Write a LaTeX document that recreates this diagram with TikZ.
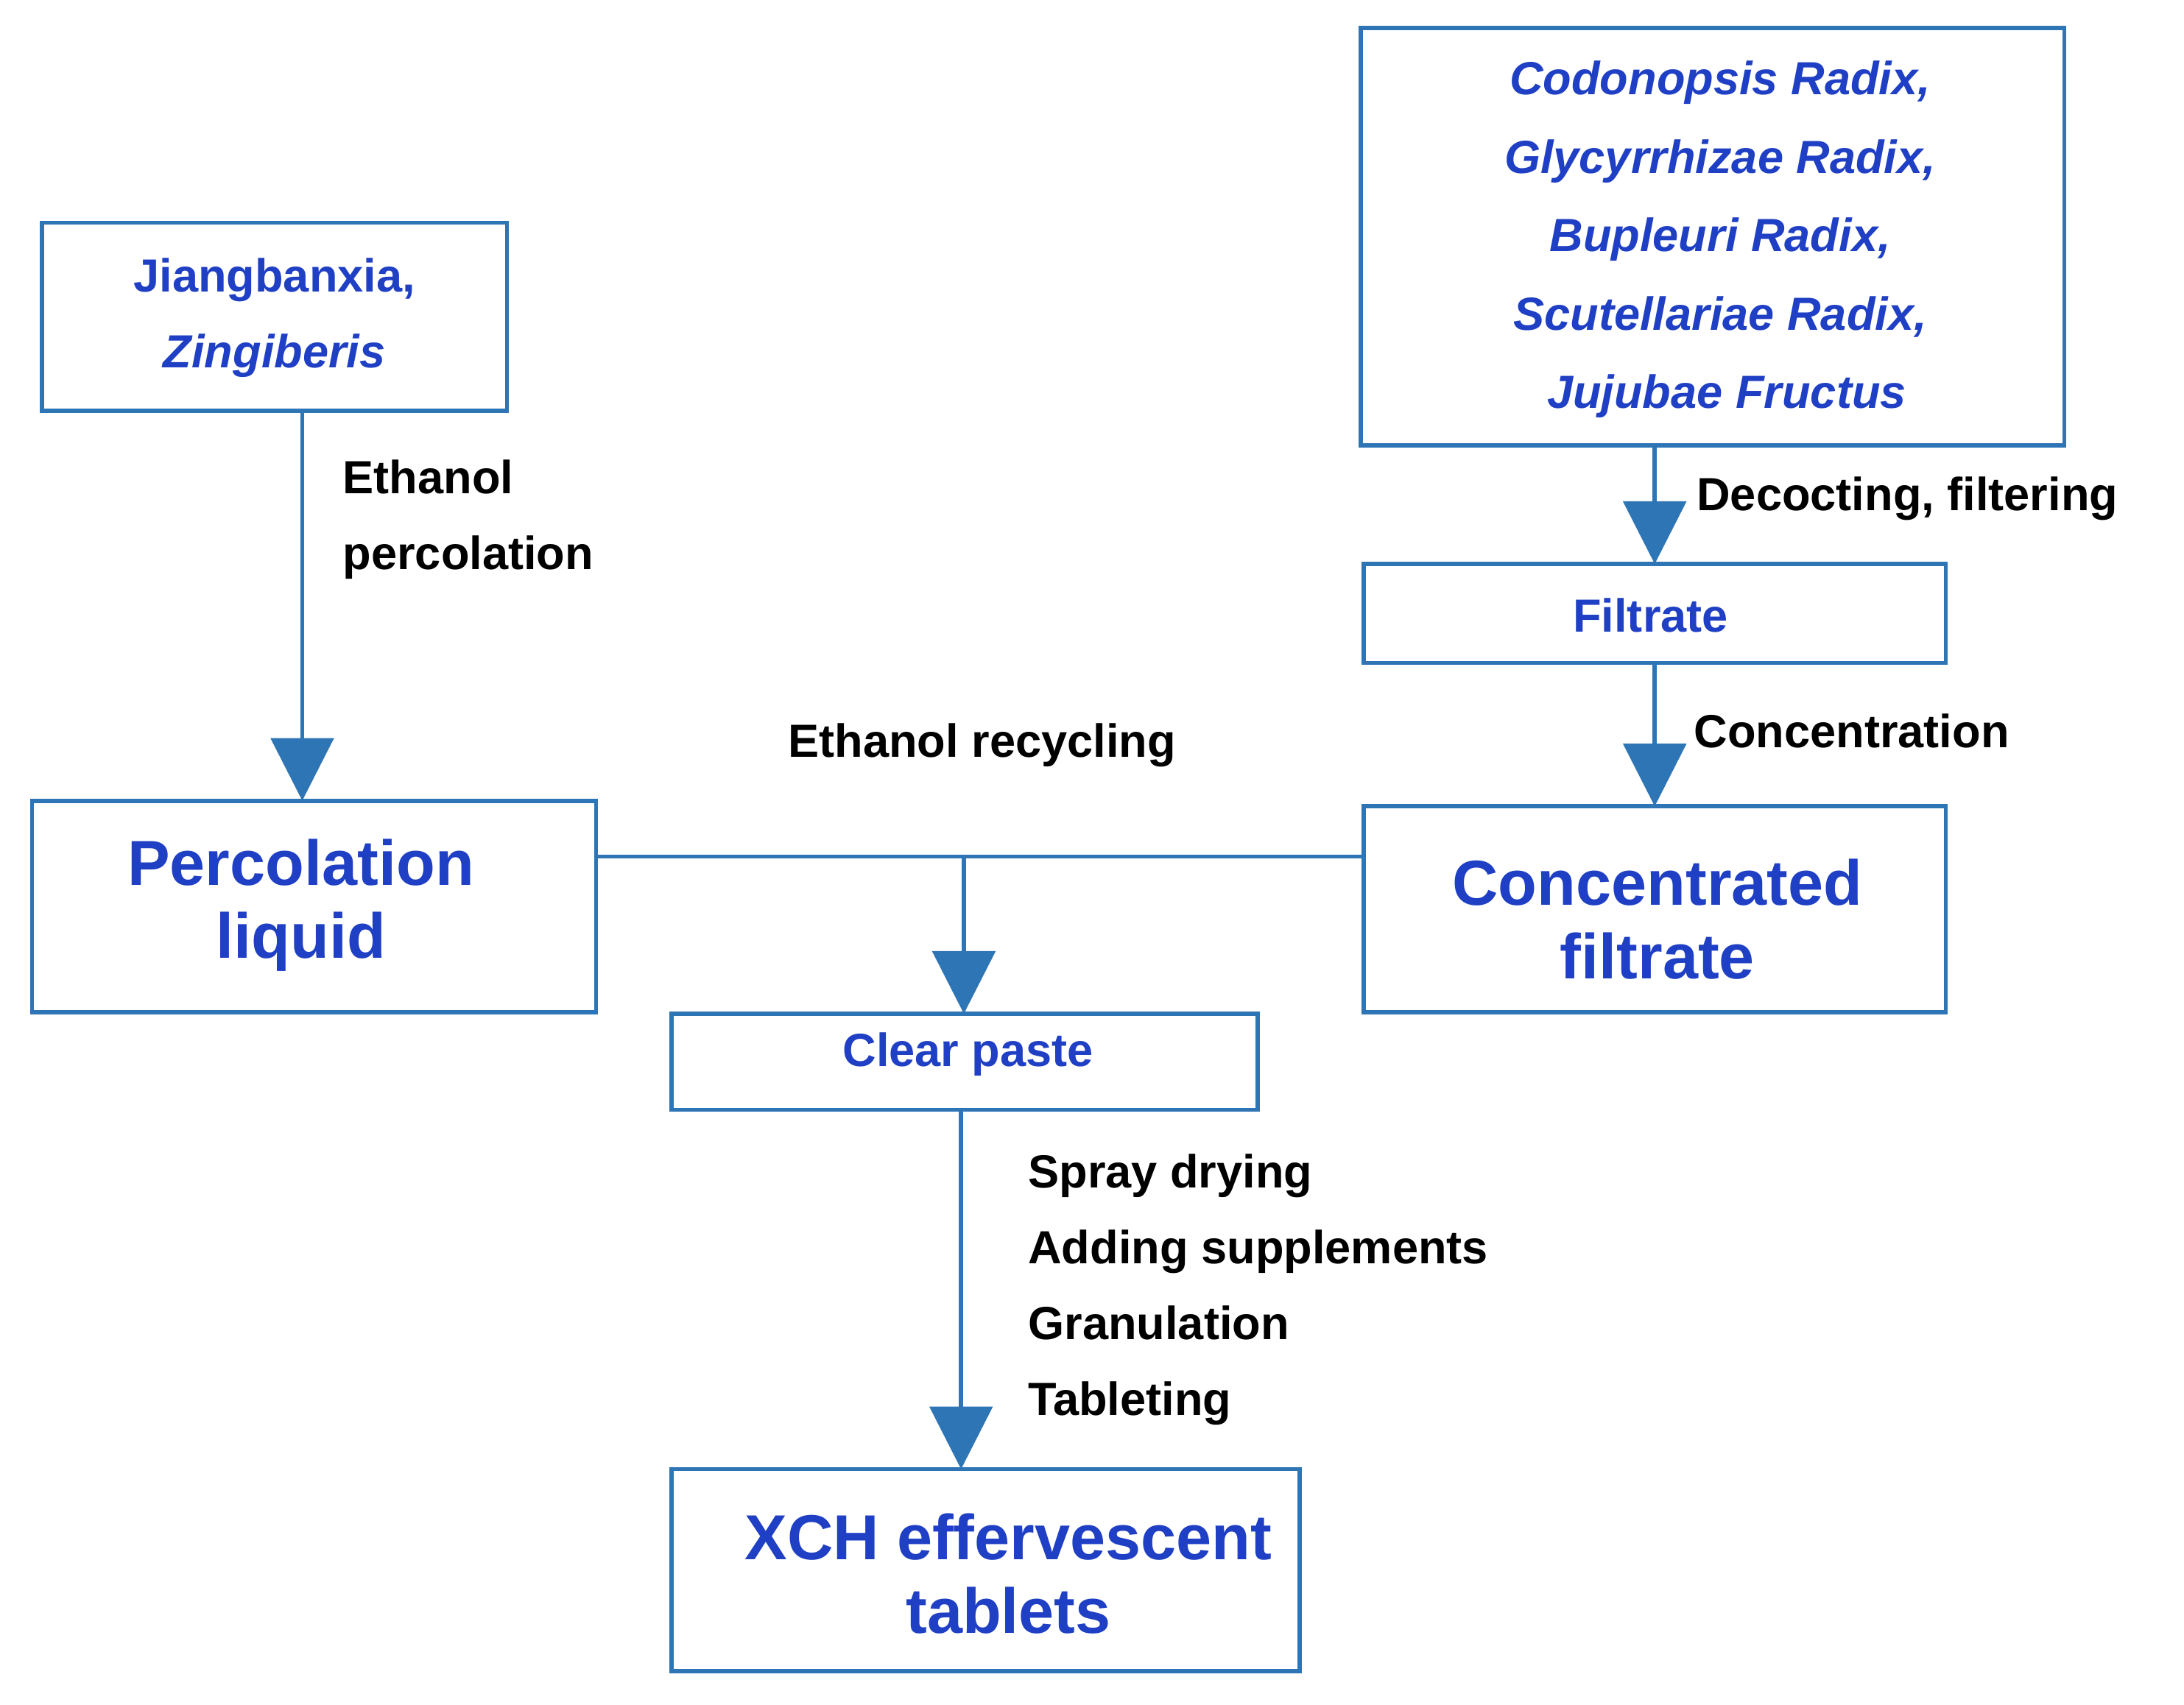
\documentclass[tikz,border=0pt]{standalone}
\usepackage{fontspec}
\setmainfont{Liberation Sans}
\usetikzlibrary{arrows.meta}
\definecolor{bl}{HTML}{2E75B6}
\definecolor{tx}{HTML}{1F3FC4}
\begin{document}
\begin{tikzpicture}[x=0.02cm,y=-0.02cm,
 box/.style={draw=bl,line width=1.7pt,inner sep=0pt},
 con/.style={draw=bl,line width=1.7pt},
 arr/.style={con,-{Triangle[width=0.9cm,length=0.9cm]}},
 lab/.style={font=\fontsize{19}{31}\selectfont\bfseries,anchor=west,align=left},
 bt/.style={text=tx,font=\fontsize{19}{31}\selectfont\bfseries,align=center},
 big/.style={text=tx,font=\fontsize{26}{30}\selectfont\bfseries,align=center}]
\useasboundingbox (0,0) rectangle (1568,1224);
\draw[box] (30,160) rectangle (364,295); \node[bt] (j) at (197,228) {Jiangbanxia,\\\itshape Zingiberis};
\draw[box] (977,20) rectangle (1482,320);
\node[bt,font=\fontsize{19}{32}\selectfont\bfseries\itshape] (c) at (1235,172) {Codonopsis Radix,\\Glycyrrhizae Radix,\\Bupleuri Radix,\\Scutellariae Radix,\\\ Jujubae Fructus};
\draw[box] (979,405) rectangle (1397,476); \node[bt] (f) at (1185,442) {Filtrate};
\draw[box] (23,575) rectangle (428,727); \node[big] (p) at (216,650) {Percolation\\liquid};
\draw[box] (979,579) rectangle (1397,727); \node[big] (cf) at (1190,660) {Concentrated\\filtrate};
\draw[box] (482,728) rectangle (903,797); \node[bt] (cp) at (695,757) {Clear paste};
\draw[box] (482,1055) rectangle (933,1200); \node[big] (x) at (724,1130) {XCH effervescent\\tablets};
\coordinate (pr) at (428,615); \coordinate (cl) at (979,615); \coordinate (m) at (692,615);
\draw[arr] (217,296) -- (217,575);
\draw[arr] (1188,320) -- (1188,405);
\draw[arr] (1188,476) -- (1188,579);
\draw[con] (pr) -- (cl);
\draw[arr] (m) -- (692,728);
\draw[arr] (690,797) -- (690,1055);
\node[lab,text=black] (l1) at (240,373) {Ethanol\\percolation};
\node[lab] (l2) at (1212,358) {Decocting, filtering};
\node[lab] (l3) at (1210,525) {Concentration};
\node[lab,anchor=center] (l4) at (705,535) {Ethanol recycling};
\node[lab] (l5) at (732,926) {Spray drying\\Adding supplements\\Granulation\\Tableting};
\end{tikzpicture}
\end{document}
